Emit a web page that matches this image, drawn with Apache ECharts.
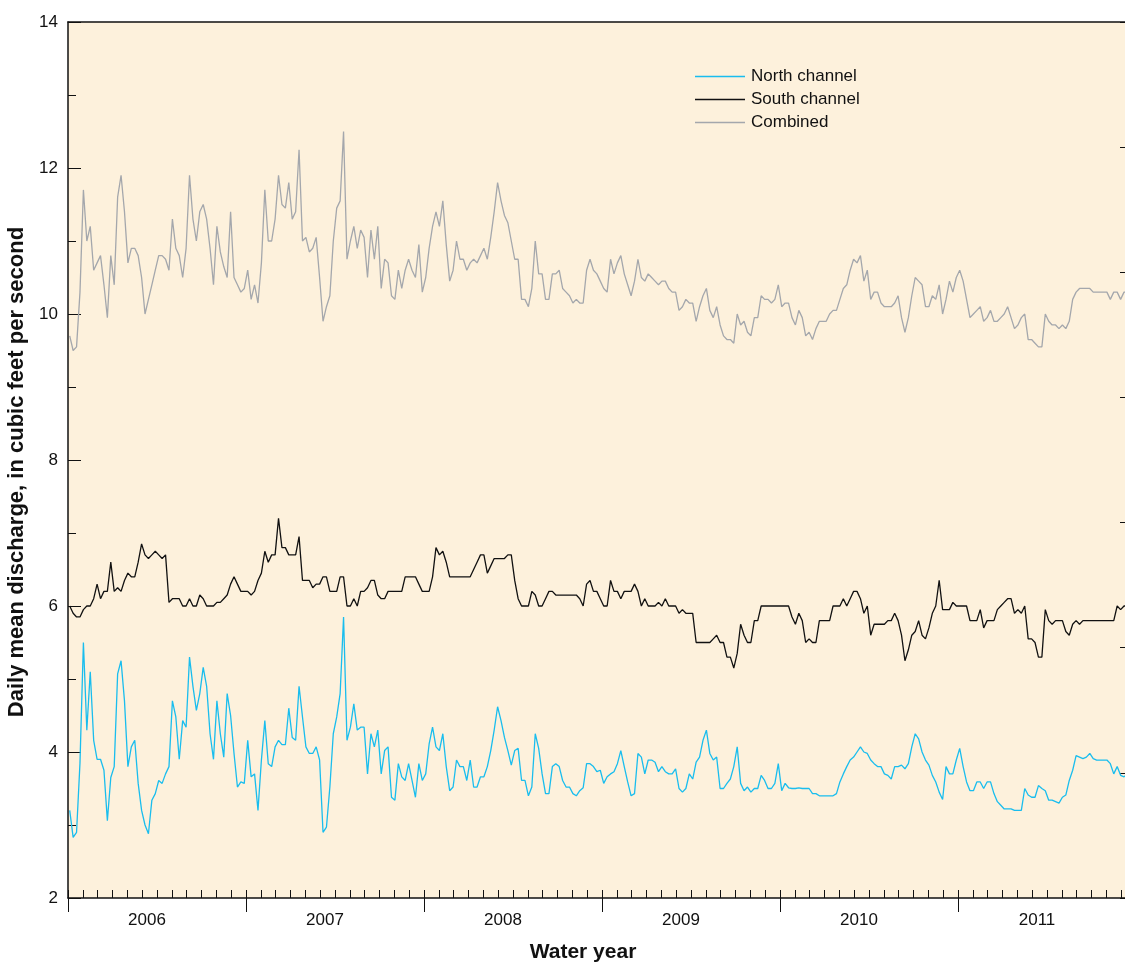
<!DOCTYPE html>
<html>
<head>
<meta charset="utf-8">
<script src="https://cdn.jsdelivr.net/npm/echarts@6/dist/echarts.min.js"></script>
<style>
  html, body { margin: 0; padding: 0; background: #ffffff; }
  #chart { width: 1125px; height: 963px; }
</style>
</head>
<body>
<div id="chart"></div>
<script>
// Water years shown along the bottom axis (Oct 1 – Sep 30)
const waterYears = ['2006', '2007', '2008', '2009', '2010', '2011'];
const seriesNames = ['North channel', 'South channel', 'Combined'];

// Weekly discharge, cubic feet per second, 52 values per water year
const northChannel = [
  3.2, 2.83, 2.9, 3.85, 5.5, 4.3, 5.1, 4.16, 3.9, 3.9, 3.75, 3.06, 3.65, 3.8, 5.07, 5.25, 4.7, 3.8, 4.07, 4.16, 3.57, 3.2, 3.0, 2.88, 3.34, 3.43, 3.61, 3.57, 3.7, 3.8, 4.7, 4.48, 3.9, 4.43, 4.34, 5.3, 4.9, 4.57, 4.8, 5.16, 4.9, 4.25, 3.9, 4.7, 4.25, 3.93, 4.8, 4.5, 3.98, 3.52, 3.59, 3.57,
  4.16, 3.66, 3.7, 3.2, 3.89, 4.43, 3.84, 3.8, 4.07, 4.16, 4.1, 4.1, 4.6, 4.2, 4.16, 4.9, 4.48, 4.07, 3.98, 3.98, 4.07, 3.89, 2.9, 2.97, 3.52, 4.25, 4.48, 4.8, 5.85, 4.16, 4.34, 4.66, 4.3, 4.34, 4.34, 3.7, 4.25, 4.07, 4.3, 3.7, 4.02, 4.07, 3.38, 3.34, 3.84, 3.66, 3.61, 3.84, 3.61, 3.38, 3.84, 3.61,
  3.7, 4.11, 4.34, 4.07, 4.02, 4.25, 3.8, 3.47, 3.52, 3.89, 3.8, 3.8, 3.61, 3.89, 3.52, 3.52, 3.66, 3.66, 3.8, 4.02, 4.3, 4.62, 4.43, 4.2, 4.02, 3.82, 4.02, 4.05, 3.61, 3.61, 3.4, 3.52, 4.25, 4.05, 3.7, 3.43, 3.43, 3.8, 3.84, 3.8, 3.61, 3.52, 3.52, 3.43, 3.4, 3.47, 3.51, 3.84, 3.84, 3.8, 3.73, 3.75,
  3.57, 3.66, 3.7, 3.73, 3.84, 4.02, 3.8, 3.59, 3.4, 3.43, 3.98, 3.93, 3.7, 3.89, 3.89, 3.86, 3.73, 3.8, 3.73, 3.7, 3.7, 3.77, 3.5, 3.45, 3.5, 3.7, 3.63, 3.86, 3.93, 4.16, 4.3, 3.98, 3.89, 3.93, 3.5, 3.5, 3.57, 3.63, 3.8, 4.07, 3.57, 3.47, 3.52, 3.45, 3.5, 3.5, 3.68, 3.61, 3.5, 3.5, 3.57, 3.84,
  3.47, 3.57, 3.51, 3.5, 3.5, 3.51, 3.5, 3.5, 3.5, 3.43, 3.43, 3.4, 3.4, 3.4, 3.4, 3.4, 3.43, 3.59, 3.7, 3.8, 3.89, 3.93, 4.0, 4.07, 4.0, 3.98, 3.89, 3.84, 3.8, 3.8, 3.7, 3.68, 3.63, 3.8, 3.8, 3.82, 3.77, 3.84, 4.07, 4.25, 4.18, 4.0, 3.89, 3.82, 3.68, 3.59, 3.45, 3.35, 3.8, 3.7, 3.7, 3.89,
  4.05, 3.8, 3.59, 3.47, 3.47, 3.59, 3.59, 3.5, 3.59, 3.59, 3.43, 3.32, 3.27, 3.22, 3.22, 3.22, 3.2, 3.2, 3.2, 3.5, 3.41, 3.38, 3.38, 3.54, 3.5, 3.47, 3.34, 3.34, 3.32, 3.3, 3.38, 3.41, 3.61, 3.75, 3.95, 3.93, 3.91, 3.93, 3.98, 3.91, 3.89, 3.89, 3.89, 3.89, 3.84, 3.7, 3.8, 3.68, 3.66, 3.7, 3.7, 3.7
];

const southChannel = [
  6.0, 5.9, 5.85, 5.85, 5.95, 6.0, 6.0, 6.1, 6.3, 6.1, 6.2, 6.2, 6.6, 6.2, 6.25, 6.2, 6.35, 6.45, 6.4, 6.4, 6.6, 6.85, 6.7, 6.65, 6.7, 6.75, 6.7, 6.65, 6.7, 6.05, 6.1, 6.1, 6.1, 6.0, 6.0, 6.1, 6.0, 6.0, 6.15, 6.1, 6.0, 6.0, 6.0, 6.05, 6.05, 6.1, 6.15, 6.3, 6.4, 6.3, 6.2, 6.2,
  6.2, 6.15, 6.2, 6.35, 6.45, 6.75, 6.6, 6.7, 6.7, 7.2, 6.8, 6.8, 6.7, 6.7, 6.7, 6.95, 6.35, 6.35, 6.35, 6.25, 6.3, 6.3, 6.4, 6.4, 6.2, 6.2, 6.2, 6.4, 6.4, 6.0, 6.0, 6.1, 6.0, 6.2, 6.2, 6.25, 6.35, 6.35, 6.15, 6.1, 6.1, 6.2, 6.2, 6.2, 6.2, 6.2, 6.4, 6.4, 6.4, 6.4, 6.3, 6.2,
  6.2, 6.2, 6.4, 6.8, 6.7, 6.75, 6.6, 6.4, 6.4, 6.4, 6.4, 6.4, 6.4, 6.4, 6.5, 6.6, 6.7, 6.7, 6.45, 6.55, 6.65, 6.65, 6.65, 6.65, 6.7, 6.7, 6.35, 6.1, 6.0, 6.0, 6.0, 6.2, 6.15, 6.0, 6.0, 6.1, 6.2, 6.2, 6.15, 6.15, 6.15, 6.15, 6.15, 6.15, 6.15, 6.1, 6.0, 6.3, 6.35, 6.2, 6.2, 6.1,
  6.0, 6.0, 6.35, 6.2, 6.2, 6.1, 6.2, 6.2, 6.2, 6.3, 6.2, 6.0, 6.1, 6.0, 6.0, 6.0, 6.05, 6.0, 6.1, 6.0, 6.0, 6.0, 5.9, 5.95, 5.9, 5.9, 5.9, 5.5, 5.5, 5.5, 5.5, 5.5, 5.55, 5.6, 5.5, 5.5, 5.3, 5.3, 5.15, 5.35, 5.75, 5.6, 5.5, 5.5, 5.8, 5.8, 6.0, 6.0, 6.0, 6.0, 6.0, 6.0,
  6.0, 6.0, 6.0, 5.85, 5.75, 5.9, 5.8, 5.5, 5.55, 5.5, 5.5, 5.8, 5.8, 5.8, 5.8, 6.0, 6.0, 6.0, 6.1, 6.0, 6.1, 6.2, 6.2, 6.1, 5.9, 6.0, 5.6, 5.75, 5.75, 5.75, 5.75, 5.8, 5.8, 5.9, 5.8, 5.6, 5.25, 5.4, 5.6, 5.65, 5.8, 5.6, 5.55, 5.7, 5.9, 6.0, 6.35, 5.95, 5.95, 5.95, 6.05, 6.0,
  6.0, 6.0, 6.0, 5.8, 5.8, 5.8, 5.95, 5.7, 5.8, 5.8, 5.8, 5.95, 6.0, 6.05, 6.1, 6.1, 5.9, 5.95, 5.9, 6.0, 5.55, 5.55, 5.5, 5.3, 5.3, 5.95, 5.8, 5.75, 5.8, 5.8, 5.8, 5.65, 5.6, 5.75, 5.8, 5.75, 5.8, 5.8, 5.8, 5.8, 5.8, 5.8, 5.8, 5.8, 5.8, 5.8, 6.0, 5.95, 6.0, 6.0, 6.0, 6.0
];

const combinedFlow = [
  9.7, 9.5, 9.55, 10.3, 11.7, 11.0, 11.2, 10.6, 10.7, 10.8, 10.4, 9.95, 10.8, 10.4, 11.6, 11.9, 11.4, 10.7, 10.9, 10.9, 10.8, 10.5, 10.0, 10.2, 10.4, 10.6, 10.8, 10.8, 10.75, 10.6, 11.3, 10.9, 10.8, 10.5, 10.9, 11.9, 11.3, 11.0, 11.4, 11.5, 11.3, 10.9, 10.4, 11.2, 10.85, 10.65, 10.5, 11.4, 10.5, 10.4, 10.3, 10.35,
  10.6, 10.2, 10.4, 10.15, 10.7, 11.7, 11.0, 11.0, 11.3, 11.9, 11.5, 11.45, 11.8, 11.3, 11.4, 12.25, 11.0, 11.05, 10.85, 10.9, 11.05, 10.5, 9.9, 10.1, 10.25, 11.0, 11.45, 11.55, 12.5, 10.75, 11.0, 11.2, 10.9, 11.15, 11.05, 10.5, 11.15, 10.75, 11.2, 10.35, 10.75, 10.7, 10.25, 10.2, 10.6, 10.35, 10.6, 10.75, 10.6, 10.5, 10.95, 10.3,
  10.5, 10.9, 11.2, 11.4, 11.2, 11.55, 10.95, 10.45, 10.6, 11.0, 10.75, 10.75, 10.6, 10.7, 10.75, 10.7, 10.8, 10.9, 10.75, 11.05, 11.4, 11.8, 11.55, 11.35, 11.25, 11.0, 10.75, 10.75, 10.2, 10.2, 10.1, 10.35, 11.0, 10.55, 10.55, 10.2, 10.2, 10.55, 10.55, 10.6, 10.35, 10.3, 10.25, 10.15, 10.2, 10.15, 10.15, 10.6, 10.75, 10.6, 10.55, 10.45,
  10.35, 10.3, 10.75, 10.55, 10.7, 10.8, 10.55, 10.4, 10.25, 10.45, 10.75, 10.5, 10.45, 10.55, 10.5, 10.45, 10.4, 10.45, 10.45, 10.35, 10.3, 10.3, 10.05, 10.1, 10.2, 10.15, 10.15, 9.9, 10.1, 10.25, 10.35, 10.05, 9.95, 10.1, 9.85, 9.7, 9.65, 9.65, 9.6, 10.0, 9.85, 9.9, 9.75, 9.7, 9.95, 9.95, 10.25, 10.2, 10.2, 10.15, 10.2, 10.4,
  10.1, 10.15, 10.15, 9.95, 9.85, 10.05, 9.95, 9.7, 9.75, 9.65, 9.8, 9.9, 9.9, 9.9, 10.0, 10.05, 10.05, 10.2, 10.35, 10.4, 10.6, 10.75, 10.7, 10.8, 10.45, 10.6, 10.2, 10.3, 10.3, 10.15, 10.1, 10.1, 10.1, 10.15, 10.25, 9.95, 9.75, 9.95, 10.25, 10.5, 10.45, 10.4, 10.1, 10.1, 10.25, 10.2, 10.4, 10.0, 10.2, 10.45, 10.3, 10.5,
  10.6, 10.45, 10.2, 9.95, 10.0, 10.05, 10.1, 9.9, 9.95, 10.05, 9.9, 9.9, 9.95, 10.0, 10.1, 9.95, 9.8, 9.85, 9.95, 10.0, 9.65, 9.65, 9.6, 9.55, 9.55, 10.0, 9.9, 9.85, 9.85, 9.8, 9.85, 9.8, 9.9, 10.2, 10.3, 10.35, 10.35, 10.35, 10.35, 10.3, 10.3, 10.3, 10.3, 10.3, 10.2, 10.3, 10.3, 10.2, 10.3, 10.3, 10.3, 10.3
];

const DAYS_PER_YEAR = 365.25;
const SAMPLES_PER_YEAR = 52;
const sampleStep = DAYS_PER_YEAR / SAMPLES_PER_YEAR;
const totalDays = DAYS_PER_YEAR * waterYears.length;

// Each weekly value sits at the middle of its week, counted in days from Oct 1, 2005
const toPoints = values => values.map((v, i) => [(i + 0.5) * sampleStep, v]);

const FONT = '"Liberation Sans", Arial, sans-serif';
const INK = '#111111';

const chart = echarts.init(document.getElementById('chart'), null, { renderer: 'canvas' });

chart.setOption({
  animation: false,
  backgroundColor: '#ffffff',
  textStyle: { fontFamily: FONT },
  grid: {
    left: 68, top: 22, right: -11, bottom: 65,
    containLabel: false,
    outerBoundsMode: 'none',
    show: true, backgroundColor: '#FDF1DC', borderWidth: 0
  },
  legend: {
    orient: 'vertical',
    left: 695, top: 68,
    padding: 0,
    icon: 'rect',
    itemWidth: 50, itemHeight: 1.5,
    itemGap: 6,
    textStyle: { fontSize: 17, color: INK, fontFamily: FONT, lineHeight: 17, padding: [0, 0, 0, 1] },
    data: seriesNames
  },
  xAxis: [
    { // monthly ticks inside the plot
      type: 'value', position: 'bottom',
      min: 0, max: totalDays, interval: DAYS_PER_YEAR / 12,
      axisLine: { show: true, onZero: false, lineStyle: { color: INK, width: 1.5 } },
      axisTick: { show: true, inside: true, length: 8, lineStyle: { color: INK, width: 1 } },
      axisLabel: { show: false },
      splitLine: { show: false }
    },
    { // water-year boundaries and labels
      type: 'category', position: 'bottom',
      data: waterYears, boundaryGap: true,
      axisLine: { show: false, onZero: false },
      axisTick: { show: true, inside: false, length: 14, alignWithLabel: false, lineStyle: { color: INK, width: 1 } },
      axisLabel: { show: true, fontSize: 17, color: INK, margin: 14, fontFamily: FONT, padding: [0, 20, 0, 0] },
      name: 'Water year', nameLocation: 'middle', nameGap: 44, nameMoveOverlap: false,
      nameTextStyle: { fontSize: 21, fontWeight: 'bold', color: INK, fontFamily: FONT, padding: [0, 38, 0, 0] }
    },
    { // top frame
      type: 'value', position: 'top',
      min: 0, max: totalDays,
      axisLine: { show: true, onZero: false, lineStyle: { color: INK, width: 1.5 } },
      axisTick: { show: false }, axisLabel: { show: false }, splitLine: { show: false }
    }
  ],
  yAxis: [
    {
      type: 'value', position: 'left',
      min: 2, max: 14, interval: 2,
      axisLine: { show: true, onZero: false, lineStyle: { color: INK, width: 1.5 } },
      axisTick: { show: true, inside: true, length: 13, lineStyle: { color: INK, width: 1 } },
      minorTick: { show: true, splitNumber: 2, length: 8, lineStyle: { color: INK, width: 1 } },
      axisLabel: { fontSize: 17, color: INK, margin: 10, fontFamily: FONT },
      splitLine: { show: false },
      name: 'Daily mean discharge, in cubic feet per second',
      nameLocation: 'middle', nameGap: 40, nameMoveOverlap: false,
      nameTextStyle: { fontSize: 22, fontWeight: 'bold', color: INK, fontFamily: FONT, padding: [0, 24, 0, 0] }
    },
    { // secondary scale on the right edge
      type: 'value', position: 'right',
      min: 0, max: 7, interval: 1,
      axisLine: { show: true, onZero: false, lineStyle: { color: INK, width: 1.5 } },
      axisTick: { show: true, inside: true, length: 16, lineStyle: { color: INK, width: 1 } },
      axisLabel: { show: false },
      splitLine: { show: false }
    }
  ],
  series: [
    {
      name: seriesNames[0], type: 'line', xAxisIndex: 0, yAxisIndex: 0,
      data: toPoints(northChannel), showSymbol: false, symbol: 'none',
      lineStyle: { color: '#19BDEE', width: 1.3 }, itemStyle: { color: '#19BDEE' }, z: 4
    },
    {
      name: seriesNames[1], type: 'line', xAxisIndex: 0, yAxisIndex: 0,
      data: toPoints(southChannel), showSymbol: false, symbol: 'none',
      lineStyle: { color: '#111111', width: 1.3 }, itemStyle: { color: '#111111' }, z: 3
    },
    {
      name: seriesNames[2], type: 'line', xAxisIndex: 0, yAxisIndex: 0,
      data: toPoints(combinedFlow), showSymbol: false, symbol: 'none',
      lineStyle: { color: '#A4A7AC', width: 1.3 }, itemStyle: { color: '#A4A7AC' }, z: 2
    }
  ]
});
</script>
</body>
</html>
